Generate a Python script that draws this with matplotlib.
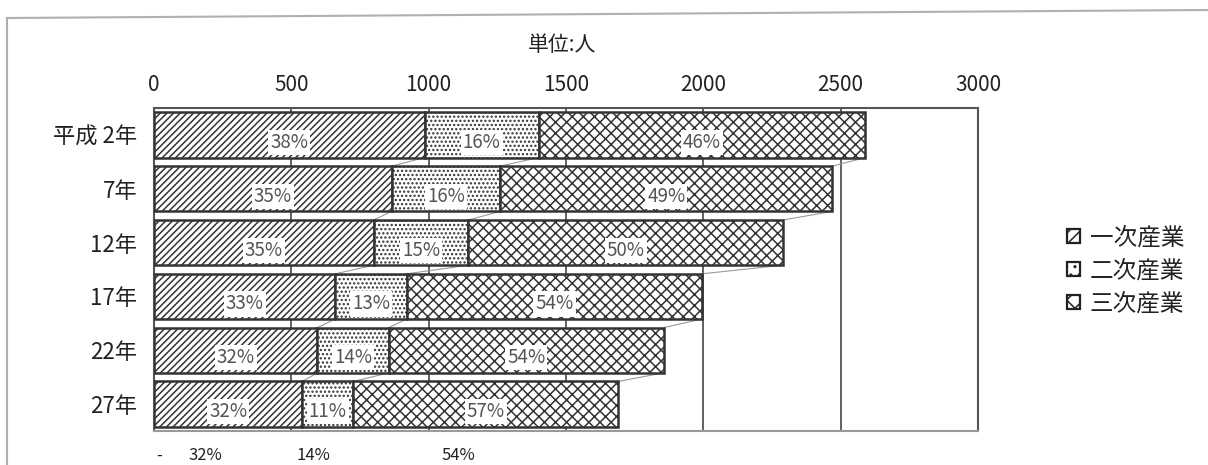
import matplotlib
matplotlib.use('Agg')
import matplotlib.pyplot as plt
from matplotlib.patches import Patch
from matplotlib.lines import Line2D
import numpy as np

plt.rcParams['font.family'] = ['Noto Sans CJK JP', 'DejaVu Sans']
plt.rcParams['hatch.linewidth'] = 1.1

years = ['平成 2年', '7年', '12年', '17年', '22年', '27年']
primary = [985, 865, 800, 660, 595, 540]
secondary = [415, 395, 345, 260, 260, 185]
tertiary = [1190, 1210, 1145, 1075, 1000, 965]
series_names = ['一次産業', '二次産業', '三次産業']
hatches = ['/////', '....', 'xxx']
xticks = [0, 500, 1000, 1500, 2000, 2500, 3000]
bottom_row = ['-', '32%', '14%', '54%']

W, H = 1208, 465
fig = plt.figure(figsize=(W / 100, H / 100), dpi=100)
ax = fig.add_axes([154 / W, 1 - 431 / H, 824 / W, 323 / H])

edge = '#333333'
y = np.arange(len(years))
values = [primary, secondary, tertiary]
totals = np.sum(values, axis=0)
left = np.zeros(len(years))
bar_h = 0.84
ends = []
for vals, hatch in zip(values, hatches):
    ax.barh(y, vals, left=left, height=bar_h, color='white', edgecolor=edge,
            hatch=hatch, linewidth=1.8, zorder=3)
    for i, v in enumerate(vals):
        pct = round(v / totals[i] * 100)
        ax.text(left[i] + v / 2, y[i] + 0.14, f'{pct}%', ha='center', va='center',
                fontsize=13.5, color='#555555',
                bbox=dict(facecolor='white', edgecolor='none', pad=1.5), zorder=5)
    left = left + np.array(vals)
    ends.append(left.copy())

# series lines between bars
for e in ends:
    for i in range(len(years) - 1):
        ax.plot([e[i], e[i + 1]], [y[i] + bar_h / 2, y[i + 1] - bar_h / 2],
                color='#9a9a9a', lw=0.8, zorder=2)

ax.set_xlim(0, 3000)
ax.set_ylim(len(years) - 0.5, -0.5)
ax.set_xticks(xticks)
ax.xaxis.tick_top()
ax.tick_params(axis='x', length=0, pad=9, labelsize=15, colors='#222222')
ax.set_yticks(y)
ax.set_yticklabels(years, fontsize=16, color='#222222')
ax.tick_params(axis='y', length=0, pad=12)
ax.grid(axis='x', color='#555555', lw=1.3, zorder=1)
for s in ax.spines.values():
    s.set_color('#555555')
    s.set_linewidth(1.5)
ax.spines['bottom'].set_color('#999999')

fig.text(562 / W, 1 - 45 / H, '単位:人', ha='center', va='center', fontsize=15, color='#222222')

handles = [Patch(facecolor='white', edgecolor='#222222', hatch=h, lw=1.6) for h in ['///', '..', 'xx']]
fig.legend(handles, series_names, loc='center left', bbox_to_anchor=(1046 / W, 1 - 271 / H),
           frameon=False, fontsize=17, handlelength=0.55, handleheight=0.55,
           handletextpad=0.4, labelspacing=0.42, labelcolor='#222222')

for x, t in zip([159, 205, 313, 458], bottom_row):
    fig.text(x / W, 1 / H, t, ha='center', va='bottom', fontsize=12, color='#222222')

# scanned outer frame
fig.add_artist(Line2D([7 / W, 7 / W], [0, 1 - 18 / H], color='#b0b0b0', lw=1.5))
fig.add_artist(Line2D([7 / W, 1], [1 - 18 / H, 1 - 10 / H], color='#b0b0b0', lw=1.5))

fig.savefig('out.png', dpi=100)
